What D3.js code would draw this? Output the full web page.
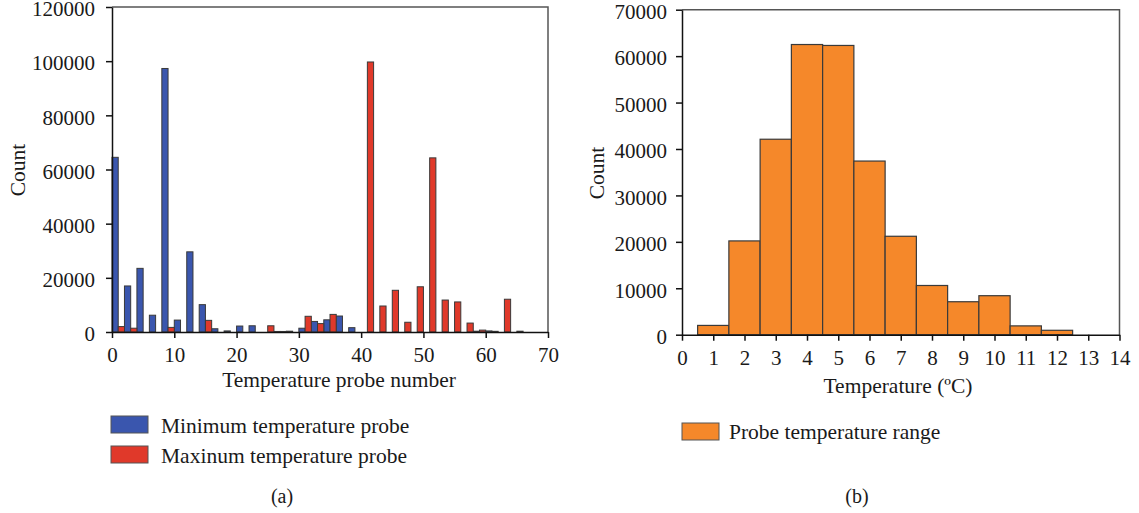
<!DOCTYPE html>
<html>
<head>
<meta charset="utf-8">
<script src="https://cdn.jsdelivr.net/npm/d3@7"></script>
<style>
  body { margin: 0; background: #fff; }
  svg { display: block; }
  text { font-family: "Liberation Serif", "DejaVu Serif", serif; fill: #1a1a1a; }
  .axis path, .axis line { stroke: #111; stroke-width: 1.5; }
  .axis text { font-size: 21px; font-family: "Liberation Serif", serif; fill: #1a1a1a; }
</style>
</head>
<body>
<div id="chart"></div>
<script>
// Panel (a): counts per probe pair (bins start at even probe numbers)
var probeBins = [0, 2, 4, 6, 8, 10, 12, 14, 16, 18, 20, 22, 24, 26, 28, 30, 32,
                 34, 36, 38, 40, 42, 44, 46, 48, 50, 52, 54, 56, 58, 60, 62, 64];
var minCounts = [64500, 17000, 23500, 6200, 97300, 4400, 29600, 10100, 1200, 400, 2200, 2300, 0, 200, 300, 1400, 3900,
                 4500, 5900, 1600, 0, 0, 0, 0, 0, 0, 0, 0, 0, 300, 400, 0, 0];
var maxCounts = [2000, 1400, 0, 0, 1700, 0, 0, 4300, 0, 0, 0, 0, 2300, 200, 0, 5800, 3100,
                 6500, 0, 0, 99700, 9600, 15400, 3600, 16700, 64300, 11800, 11100, 3300, 700, 250, 12100, 300];
var leftTicksX = [0, 10, 20, 30, 40, 50, 60, 70];
var leftTicksY = [0, 20000, 40000, 60000, 80000, 100000, 120000];

// Panel (b): temperature range histogram (bin centres, counts)
var tempBins = [1, 2, 3, 4, 5, 6, 7, 8, 9, 10, 11, 12, 13];
var tempCounts = [2000, 20200, 42100, 62500, 62300, 37400, 21200, 10600, 7100, 8400, 1900, 950, 0];
var rightTicksX = [0, 1, 2, 3, 4, 5, 6, 7, 8, 9, 10, 11, 12, 13, 14];
var rightTicksY = [0, 10000, 20000, 30000, 40000, 50000, 60000, 70000];

var W = 1139, H = 513;
var blue = "#3a56ae", red = "#e0392a", orange = "#f5882a", edge = "#3a3a3a";
var labelSize = 21.5;

var svg = d3.select("#chart").append("svg")
    .attr("width", W).attr("height", H);

// ---------- panel (a) ----------
var xa = d3.scaleLinear().domain([0, 70]).range([112, 548]);
var ya = d3.scaleLinear().domain([0, 120000]).range([332, 7]);

var ga = svg.append("g");

// frame top/right
ga.append("path")
    .attr("d", "M" + xa(0) + "," + ya(120000) + "H" + xa(70) + "V" + ya(0))
    .attr("fill", "none").attr("stroke", "#555").attr("stroke-width", 1.5);

ga.selectAll("rect.minbar")
    .data(probeBins.map(function(b, i) { return {b: b, v: minCounts[i]}; }).filter(function(d) { return d.v > 0; }))
  .enter().append("rect")
    .attr("class", "minbar")
    .attr("x", function(d) { return xa(d.b); })
    .attr("width", function(d) { return xa(d.b + 1) - xa(d.b); })
    .attr("y", function(d) { return ya(d.v); })
    .attr("height", function(d) { return ya(0) - ya(d.v); })
    .attr("fill", blue).attr("stroke", edge).attr("stroke-width", 1);

ga.selectAll("rect.maxbar")
    .data(probeBins.map(function(b, i) { return {b: b, v: maxCounts[i]}; }).filter(function(d) { return d.v > 0; }))
  .enter().append("rect")
    .attr("class", "maxbar")
    .attr("x", function(d) { return xa(d.b + 1); })
    .attr("width", function(d) { return xa(d.b + 2) - xa(d.b + 1); })
    .attr("y", function(d) { return ya(d.v); })
    .attr("height", function(d) { return ya(0) - ya(d.v); })
    .attr("fill", red).attr("stroke", edge).attr("stroke-width", 1);

ga.append("g").attr("class", "axis")
    .attr("transform", "translate(0," + ya(0) + ")")
    .call(d3.axisBottom(xa).tickValues(leftTicksX).tickSize(6).tickPadding(9).tickSizeOuter(0));

ga.append("g").attr("class", "axis yaxis")
    .attr("transform", "translate(" + xa(0) + ",0)")
    .call(d3.axisLeft(ya).tickValues(leftTicksY).tickSize(6).tickPadding(11).tickSizeOuter(0)
      .tickFormat(d3.format("d")));

ga.append("text")
    .attr("transform", "translate(25,170) rotate(-90)")
    .attr("text-anchor", "middle").attr("font-size", labelSize)
    .text("Count");

ga.append("text")
    .attr("x", 339).attr("y", 387)
    .attr("text-anchor", "middle").attr("font-size", labelSize)
    .text("Temperature probe number");

var legA = [{c: blue, t: "Minimum temperature probe", y: 416},
            {c: red, t: "Maxinum temperature probe", y: 446}];
legA.forEach(function(l) {
  ga.append("rect").attr("x", 111).attr("y", l.y).attr("width", 37).attr("height", 17)
    .attr("fill", l.c).attr("stroke", "#555").attr("stroke-width", 1);
  ga.append("text").attr("x", 161).attr("y", l.y + 17).attr("font-size", labelSize).text(l.t);
});

ga.append("text").attr("x", 282).attr("y", 503)
    .attr("text-anchor", "middle").attr("font-size", 20).text("(a)");

// ---------- panel (b) ----------
var xb = d3.scaleLinear().domain([0, 14]).range([682, 1119.5]);
var yb = d3.scaleLinear().domain([0, 70000]).range([334.7, 9.7]);

var gb = svg.append("g");

gb.append("path")
    .attr("d", "M" + xb(0) + "," + yb(70000) + "H" + xb(14) + "V" + yb(0))
    .attr("fill", "none").attr("stroke", "#555").attr("stroke-width", 1.5);

gb.selectAll("rect.hist")
    .data(tempBins.map(function(b, i) { return {b: b, v: tempCounts[i]}; }).filter(function(d) { return d.v > 0; }))
  .enter().append("rect")
    .attr("class", "hist")
    .attr("x", function(d) { return xb(d.b - 0.5); })
    .attr("width", function(d) { return xb(d.b + 0.5) - xb(d.b - 0.5); })
    .attr("y", function(d) { return yb(d.v); })
    .attr("height", function(d) { return yb(0) - yb(d.v); })
    .attr("fill", orange).attr("stroke", edge).attr("stroke-width", 1.2);

gb.append("g").attr("class", "axis")
    .attr("transform", "translate(0," + yb(0) + ")")
    .call(d3.axisBottom(xb).tickValues(rightTicksX).tickSize(6).tickPadding(9).tickSizeOuter(0));

gb.append("g").attr("class", "axis yaxis")
    .attr("transform", "translate(" + xb(0) + ",0)")
    .call(d3.axisLeft(yb).tickValues(rightTicksY).tickSize(6).tickPadding(9).tickSizeOuter(0)
      .tickFormat(d3.format("d")));

// labels sit a touch below their ticks in the original
svg.selectAll(".yaxis text").attr("dy", "0.42em");

gb.append("text")
    .attr("transform", "translate(604,173) rotate(-90)")
    .attr("text-anchor", "middle").attr("font-size", labelSize)
    .text("Count");

gb.append("text")
    .attr("x", 898).attr("y", 393)
    .attr("text-anchor", "middle").attr("font-size", labelSize)
    .text("Temperature (\u00baC)");

gb.append("rect").attr("x", 682).attr("y", 423).attr("width", 37).attr("height", 17)
    .attr("fill", orange).attr("stroke", "#555").attr("stroke-width", 1);
gb.append("text").attr("x", 729).attr("y", 439).attr("font-size", labelSize).text("Probe temperature range");

gb.append("text").attr("x", 857).attr("y", 503)
    .attr("text-anchor", "middle").attr("font-size", 20).text("(b)");
</script>
</body>
</html>
